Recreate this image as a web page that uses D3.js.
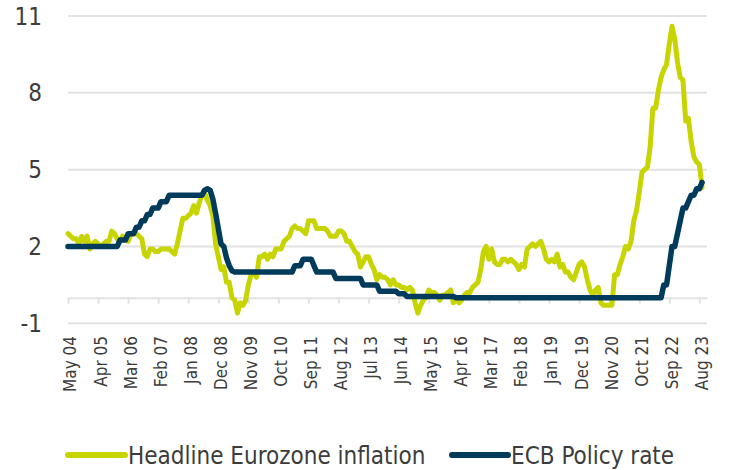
<!DOCTYPE html>
<html>
<head>
<meta charset="utf-8">
<script src="https://cdn.jsdelivr.net/npm/d3@7"></script>
<style>
  html, body { margin: 0; padding: 0; background: #ffffff; }
  svg { display: block; font-family: "DejaVu Sans Condensed", "DejaVu Sans", sans-serif; font-stretch: condensed; }
</style>
</head>
<body>
<svg id="chart" width="734" height="470"></svg>
<script>
// Monthly series, May 2004 .. Sep 2023
const startMonth = "May 2004";
const inflation = [
  2.5, 2.4, 2.3, 2.3, 2.1, 2.4, 2.2, 2.4,                        // 2004 May-Dec
  1.9, 2.1, 2.2, 2.1, 2.0, 2.1, 2.2, 2.2, 2.6, 2.5, 2.3, 2.2,    // 2005
  2.4, 2.3, 2.2, 2.5, 2.5, 2.5, 2.4, 2.3, 1.7, 1.6, 1.9, 1.9,    // 2006
  1.8, 1.8, 1.9, 1.9, 1.9, 1.9, 1.8, 1.7, 2.1, 2.6, 3.1, 3.1,    // 2007
  3.2, 3.3, 3.6, 3.3, 3.7, 4.0, 4.1, 3.8, 3.6, 3.2, 2.1, 1.6,    // 2008
  1.1, 1.2, 0.6, 0.6, 0.0, -0.1, -0.6, -0.2, -0.3, -0.1, 0.5, 0.9, // 2009
  1.0, 0.8, 1.6, 1.6, 1.7, 1.5, 1.7, 1.6, 1.9, 1.9, 1.9, 2.2,    // 2010
  2.3, 2.4, 2.7, 2.8, 2.7, 2.7, 2.6, 2.5, 3.0, 3.0, 3.0, 2.7,    // 2011
  2.7, 2.7, 2.7, 2.6, 2.4, 2.4, 2.4, 2.6, 2.6, 2.5, 2.2, 2.2,    // 2012
  2.0, 1.8, 1.7, 1.2, 1.4, 1.6, 1.6, 1.3, 1.1, 0.7, 0.9, 0.8,    // 2013
  0.8, 0.7, 0.5, 0.7, 0.5, 0.5, 0.4, 0.4, 0.3, 0.4, 0.3, -0.2,   // 2014
  -0.6, -0.3, -0.1, 0.0, 0.3, 0.2, 0.2, 0.1, -0.1, 0.1, 0.1, 0.2, // 2015
  0.3, -0.2, 0.0, -0.2, -0.1, 0.1, 0.2, 0.2, 0.4, 0.5, 0.6, 1.1, // 2016
  1.8, 2.0, 1.5, 1.9, 1.4, 1.3, 1.3, 1.5, 1.5, 1.4, 1.5, 1.4,    // 2017
  1.3, 1.1, 1.3, 1.2, 1.9, 2.0, 2.1, 2.0, 2.1, 2.2, 1.9, 1.5,    // 2018
  1.4, 1.5, 1.4, 1.7, 1.2, 1.3, 1.0, 1.0, 0.8, 0.7, 1.0, 1.3,    // 2019
  1.4, 1.2, 0.7, 0.3, 0.1, 0.3, 0.4, -0.2, -0.3, -0.3, -0.3, -0.3, // 2020
  0.9, 0.9, 1.3, 1.6, 2.0, 1.9, 2.2, 3.0, 3.4, 4.1, 4.9, 5.0,    // 2021
  5.1, 5.9, 7.4, 7.4, 8.1, 8.6, 8.9, 9.1, 9.9, 10.6, 10.1, 9.2,  // 2022
  8.6, 8.5, 6.9, 7.0, 6.1, 5.5, 5.3, 5.2, 4.3                    // 2023 Jan-Sep
];
const ecbRate = [
  2.0, 2.0, 2.0, 2.0, 2.0, 2.0, 2.0, 2.0,                        // 2004 May-Dec
  2.0, 2.0, 2.0, 2.0, 2.0, 2.0, 2.0, 2.0, 2.0, 2.0, 2.0, 2.25,   // 2005
  2.25, 2.25, 2.5, 2.5, 2.5, 2.75, 2.75, 3.0, 3.0, 3.25, 3.25, 3.5, // 2006
  3.5, 3.5, 3.75, 3.75, 3.75, 4.0, 4.0, 4.0, 4.0, 4.0, 4.0, 4.0, // 2007
  4.0, 4.0, 4.0, 4.0, 4.0, 4.0, 4.2, 4.25, 4.2, 3.85, 3.3, 2.7,  // 2008
  2.1, 2.0, 1.55, 1.25, 1.05, 1.0, 1.0, 1.0, 1.0, 1.0, 1.0, 1.0, // 2009
  1.0, 1.0, 1.0, 1.0, 1.0, 1.0, 1.0, 1.0, 1.0, 1.0, 1.0, 1.0,    // 2010
  1.0, 1.0, 1.0, 1.25, 1.25, 1.25, 1.5, 1.5, 1.5, 1.5, 1.25, 1.0, // 2011
  1.0, 1.0, 1.0, 1.0, 1.0, 1.0, 0.75, 0.75, 0.75, 0.75, 0.75, 0.75, // 2012
  0.75, 0.75, 0.75, 0.75, 0.5, 0.5, 0.5, 0.5, 0.5, 0.5, 0.25, 0.25, // 2013
  0.25, 0.25, 0.25, 0.25, 0.25, 0.15, 0.15, 0.15, 0.05, 0.05, 0.05, 0.05, // 2014
  0.05, 0.05, 0.05, 0.05, 0.05, 0.05, 0.05, 0.05, 0.05, 0.05, 0.05, 0.05, // 2015
  0.05, 0.05, 0, 0, 0, 0, 0, 0, 0, 0, 0, 0,                      // 2016
  0, 0, 0, 0, 0, 0, 0, 0, 0, 0, 0, 0,                            // 2017
  0, 0, 0, 0, 0, 0, 0, 0, 0, 0, 0, 0,                            // 2018
  0, 0, 0, 0, 0, 0, 0, 0, 0, 0, 0, 0,                            // 2019
  0, 0, 0, 0, 0, 0, 0, 0, 0, 0, 0, 0,                            // 2020
  0, 0, 0, 0, 0, 0, 0, 0, 0, 0, 0, 0,                            // 2021
  0, 0, 0, 0, 0, 0, 0.5, 0.5, 1.25, 2.0, 2.0, 2.5,               // 2022
  3.0, 3.5, 3.5, 3.75, 4.0, 4.0, 4.25, 4.25, 4.5                 // 2023 Jan-Sep
];
const tickLabels = ["May 04","Apr 05","Mar 06","Feb 07","Jan 08","Dec 08","Nov 09","Oct 10",
  "Sep 11","Aug 12","Jul 13","Jun 14","May 15","Apr 16","Mar 17","Feb 18","Jan 19","Dec 19",
  "Nov 20","Oct 21","Sep 22","Aug 23"];
const tickMonthIndex = [0,11,22,33,44,55,66,77,88,99,110,121,132,143,154,165,176,187,198,209,220,231];
const yTicks = [11, 8, 5, 2, -1];
const seriesNames = ["Headline Eurozone inflation", "ECB Policy rate"];
const seriesColors = ["#c8d400", "#003b5c"];

const svg = d3.select("#chart");
svg.append("rect").attr("width", 734).attr("height", 470).attr("fill", "#fff");

const x = d3.scaleLinear().domain([0, 233.8]).range([68, 707]);
const y = d3.scaleLinear().domain([-1, 11]).range([323.3, 16]);
const gridColor = "#e2e2e2";
const textColor = "#3c3c3c";

// horizontal gridlines
svg.append("g").selectAll("line").data(yTicks).join("line")
  .attr("x1", 68).attr("x2", 707)
  .attr("y1", d => y(d)).attr("y2", d => y(d))
  .attr("stroke", gridColor).attr("stroke-width", 2);

// y labels
svg.append("g").selectAll("text").data(yTicks).join("text")
  .attr("x", 42).attr("y", d => y(d)).attr("dy", "0.36em")
  .attr("text-anchor", "end").attr("font-size", 24).attr("fill", textColor)
  .text(d => d);

// x axis at zero
const xAxis = d3.axisBottom(x)
  .tickValues(tickMonthIndex)
  .tickSize(6).tickSizeOuter(0)
  .tickFormat((d, i) => tickLabels[i]);
const gx = svg.append("g").attr("transform", `translate(0,${y(0)})`).call(xAxis);
gx.select(".domain").attr("stroke", gridColor).attr("stroke-width", 2);
gx.selectAll(".tick line").attr("stroke", gridColor).attr("stroke-width", 2);
gx.selectAll(".tick text")
  .attr("transform", "rotate(-90)")
  .attr("x", -(336 - y(0))).attr("y", 2).attr("dy", "0.35em")
  .attr("text-anchor", "end")
  .attr("font-size", 17).attr("fill", textColor)
  .attr("font-family", "DejaVu Sans Condensed, DejaVu Sans, sans-serif");

// lines
const line = d3.line().x((d, i) => x(i)).y(d => y(d));
[inflation, ecbRate].forEach((s, k) => {
  svg.append("path").datum(s)
    .attr("d", line)
    .attr("fill", "none")
    .attr("stroke", seriesColors[k])
    .attr("stroke-width", k === 0 ? 5 : 5.5)
    .attr("stroke-linejoin", "round")
    .attr("stroke-linecap", "round");
});

// legend
const legendX = [[68, 125, 128], [452, 508, 511]];
seriesNames.forEach((name, k) => {
  const [a, b, t] = legendX[k];
  svg.append("line").attr("x1", a).attr("x2", b).attr("y1", 455).attr("y2", 455)
    .attr("stroke", seriesColors[k]).attr("stroke-width", 6).attr("stroke-linecap", "round");
  svg.append("text").attr("x", t).attr("y", 455).attr("dy", "0.36em")
    .attr("font-size", 24).attr("fill", textColor).text(name);
});
</script>
</body>
</html>
